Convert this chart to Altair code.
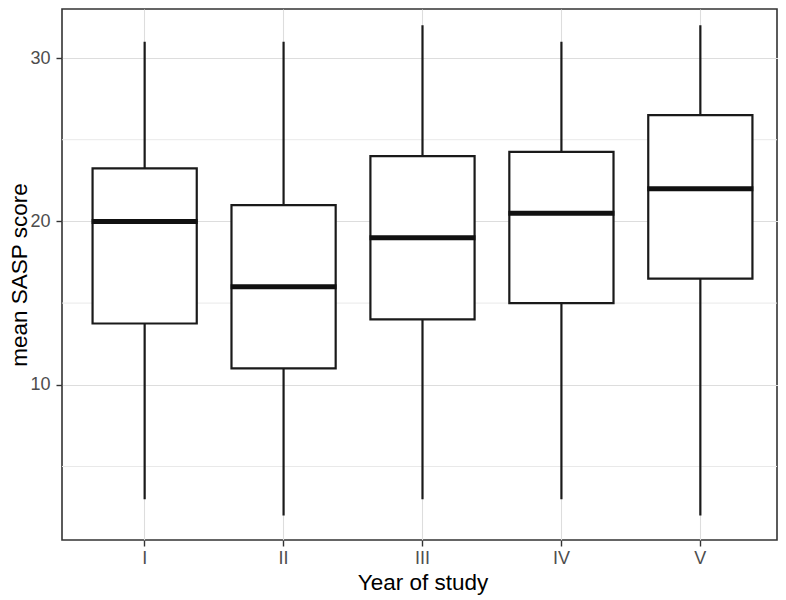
import altair as alt
import pandas as pd

years = ["I", "II", "III", "IV", "V"]
whisker_low = [3, 2, 3, 3, 2]
q1 = [13.75, 11, 14, 15, 16.5]
median = [20, 16, 19, 20.5, 22]
q3 = [23.25, 21, 24, 24.25, 26.5]
whisker_high = [31, 31, 32, 31, 32]
major_ticks = [10, 20, 30]
minor_ticks = [5, 15, 25]

df = pd.DataFrame({
    "year": years,
    "lo": whisker_low,
    "q1": q1,
    "median": median,
    "q3": q3,
    "hi": whisker_high,
})
minor_df = pd.DataFrame({"v": minor_ticks})

FONT = "Liberation Sans"
LINE = "#1a1a1a"

x_scale = alt.Scale(domain=years, paddingInner=0.25, paddingOuter=0.22, range=[0, 721])
x_axis = alt.Axis(
    title="Year of study", labelAngle=0, domain=False,
    grid=True, gridColor="#DDDDDD", gridWidth=1.1,
    tickColor="#333333", tickSize=6, tickWidth=1.4,
    labelFont=FONT, labelFontSize=18, labelColor="#4D4D4D", labelPadding=3,
    titleFont=FONT, titleFontSize=22.5, titleFontWeight="normal", titleColor="#000000",
    titlePadding=4,
)
y_scale = alt.Scale(domain=[0.5, 33.0], nice=False, zero=False)
y_axis = alt.Axis(
    title="mean SASP score", values=major_ticks, domain=False,
    grid=True, gridColor="#DDDDDD", gridWidth=1.1,
    tickColor="#333333", tickSize=6, tickWidth=1.4,
    labelFont=FONT, labelFontSize=18, labelColor="#4D4D4D", labelPadding=6,
    titleFont=FONT, titleFontSize=22.5, titleFontWeight="normal", titleColor="#000000",
    titleBaseline="alphabetic", titleX=-36,
)

minor = alt.Chart(minor_df).mark_rule(color="#E9E9E9", strokeWidth=1).encode(
    y=alt.Y("v:Q", scale=y_scale, axis=y_axis)
)

whiskers = alt.Chart(df).mark_rule(color=LINE, strokeWidth=2.2).encode(
    x=alt.X("year:N", sort=years, scale=x_scale, axis=x_axis),
    y=alt.Y("lo:Q", scale=y_scale, axis=y_axis),
    y2="hi:Q",
)

boxes = alt.Chart(df).mark_bar(fill="white", stroke=LINE, strokeWidth=2.2).encode(
    x=alt.X("year:N", sort=years, scale=x_scale, axis=x_axis),
    y=alt.Y("q1:Q", scale=y_scale, axis=y_axis),
    y2="q3:Q",
)

medians = alt.Chart(df).mark_tick(color="#111111", thickness=5, size=106, opacity=1).encode(
    x=alt.X("year:N", sort=years, scale=x_scale, axis=x_axis),
    y=alt.Y("median:Q", scale=y_scale, axis=y_axis),
)

chart = alt.layer(minor, whiskers, boxes, medians).properties(
    width=715,
    height=531,
    autosize=alt.AutoSizeParams(type="none"),
    padding={"left": 54, "top": 1, "right": 1, "bottom": 58},
).configure_view(
    stroke="#333333", strokeWidth=1.6
)

chart.save("out.html", embed_options={"renderer": "svg", "actions": False})
